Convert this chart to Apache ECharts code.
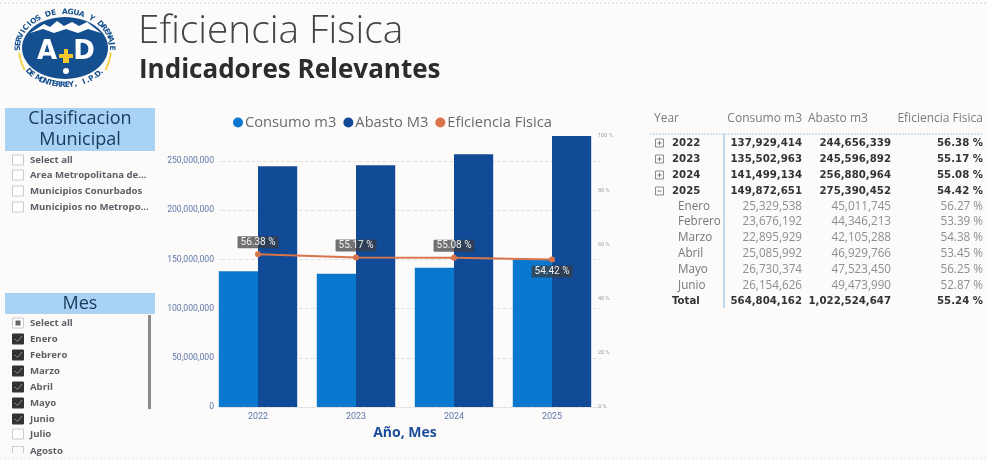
<!DOCTYPE html>
<html><head><meta charset="utf-8">
<script src="https://cdn.jsdelivr.net/npm/echarts@6/dist/echarts.min.js"></script>
<style>html,body{margin:0;padding:0;background:#fdfafa}#c{width:988px;height:461px;filter:blur(0.4px)}</style>
</head><body><div id="c"></div>
<script>
const years = ['2022','2023','2024','2025'];
const consumo = [137929414,135502963,141499134,149872651];
const abasto = [244656339,245596892,256880964,275390452];
const eficiencia = [56.38,55.17,55.08,54.42];
const municipalItems = ['Select all','Area Metropolitana de...','Municipios Conurbados','Municipios no Metropo...'];
const mesItems = ['Select all','Enero','Febrero','Marzo','Abril','Mayo','Junio','Julio','Agosto'];
const tableHeader = ['Year','Consumo m3','Abasto m3','Eficiencia Fisica'];
const tableYears = [['2022','137,929,414','244,656,339','56.38 %'],['2023','135,502,963','245,596,892','55.17 %'],['2024','141,499,134','256,880,964','55.08 %'],['2025','149,872,651','275,390,452','54.42 %']];
const tableMonths = [['Enero','25,329,538','45,011,745','56.27 %'],['Febrero','23,676,192','44,346,213','53.39 %'],['Marzo','22,895,929','42,105,288','54.38 %'],['Abril','25,085,992','46,929,766','53.45 %'],['Mayo','26,730,374','47,523,450','56.25 %'],['Junio','26,154,626','49,473,990','52.87 %']];
const tableTotal = ['Total','564,804,162','1,022,524,647','55.24 %'];

const g = [];
const txt = (x,y,text,font,fill,align) => g.push({type:'text',x,y,style:{text,font,fill,align:align||'left',verticalAlign:'middle'}});
const rect = (x,y,w,h,st) => g.push({type:'rect',shape:{x,y,width:w,height:h},style:st});
const line = (x1,y1,x2,y2,st) => g.push({type:'line',shape:{x1,y1,x2,y2},style:st});

line(0,3,988,3,{stroke:'#d6d2d2',lineWidth:1,lineDash:[2,2]});
line(0,458,988,458,{stroke:'#e9e2e2',lineWidth:1,lineDash:[2,2]});

// logo
const NAVY='#14508f', CX=65, CY=48;
g.push({type:'ellipse',shape:{cx:CX,cy:CY,rx:43,ry:31},style:{fill:NAVY}});
g.push({type:'polygon',shape:{points:[[30,33],[44,24],[50,27],[57,21],[64,26],[72,22],[79,26],[87,22],[101,33],[88,29],[78,33],[66,29],[54,33],[43,29]]},style:{fill:'#ffffff'}});
g.push({type:'text',x:47,y:52,style:{text:'A',font:'bold 26px "DejaVu Sans"',fill:'#ffffff',align:'center',verticalAlign:'middle'}});
g.push({type:'text',x:84,y:52,style:{text:'D',font:'bold 26px "DejaVu Sans"',fill:'#ffffff',align:'center',verticalAlign:'middle'}});
rect(63,54,6,9,{fill:'#f2c62e'});
rect(59,54,14,4,{fill:'#f2c62e'});
rect(64,49,4,5,{fill:'#f2c62e'});
g.push({type:'circle',shape:{cx:66,cy:71,r:3},style:{fill:'#ffffff'}});
const ring=(s,start,end,top)=>{[...s].forEach((ch,i)=>{const a=start+(end-start)*i/(s.length-1);
 g.push({type:'text',x:CX+47*Math.cos(a),y:CY+(top?36:37)*Math.sin(a),rotation:-(a+(top?Math.PI/2:-Math.PI/2)),style:{text:ch,font:'bold 7.5px "DejaVu Sans"',fill:NAVY,align:'center',verticalAlign:'middle'}});});};
ring('SERVICIOS DE AGUA Y DRENAJE',-Math.PI,0,true);
ring('DE MONTERREY, I.P.D.',Math.PI*0.78,Math.PI*0.22,false);
g.push({type:'arc',shape:{cx:CX,cy:CY,r:46,startAngle:0.1,endAngle:0.5},style:{stroke:'#f2d24e',lineWidth:2,fill:null}});
g.push({type:'arc',shape:{cx:CX,cy:CY,r:46,startAngle:Math.PI-0.5,endAngle:Math.PI-0.1},style:{stroke:'#f2d24e',lineWidth:2,fill:null}});

// titles
txt(138,32,'Eficiencia Fisica','300 38.8px "Open Sans"','#444444');
txt(139,71,'Indicadores Relevantes','bold 26px "Open Sans"','#2c2c2c');

// slicers
const HEAD='#a8d3f5', HTXT='#17395a', SL='#5c6066';
rect(5,108,150,43,{fill:HEAD});
txt(80,119,'Clasificacion','500 18px "Open Sans"',HTXT,'center');
txt(80,140,'Municipal','500 18px "Open Sans"',HTXT,'center');
[160,175,191,207].forEach((y,i)=>{
  rect(12.5,y-5,11,10,{fill:'#fff',stroke:'#cacaca',lineWidth:1});
  txt(30,y,municipalItems[i],'bold 9.6px "Open Sans"',SL);
});
rect(5,293,150,21,{fill:HEAD});
txt(80,304,'Mes','500 18px "Open Sans"',HTXT,'center');
[323,339,355,371,387,403,419,434,451].forEach((y,i)=>{
  const on=i>=1&&i<=6;
  if(i===8){ line(12.5,y-4.5,23.5,y-4.5,{stroke:'#cacaca',lineWidth:1}); line(12.5,y-4.5,12.5,y+2,{stroke:'#cacaca',lineWidth:1}); line(23.5,y-4.5,23.5,y+2,{stroke:'#cacaca',lineWidth:1}); }
  else rect(12.5,y-5,11,10,{fill:on?'#333333':'#fff',stroke:on?'#333333':'#cacaca',lineWidth:1});
  if(i===0) rect(15.5,y-2.5,5,5,{fill:'#666'});
  if(on) g.push({type:'polyline',shape:{points:[[15,y],[17.5,y+2.5],[22,y-3]]},style:{stroke:'#8f8f8f',lineWidth:1,fill:null}});
  txt(30,y,mesItems[i],'bold 9.6px "Open Sans"',SL);
});
rect(148,315,3,94,{fill:'#8b8b8b'});

// table
const colX=[0,802,891,983];
const TH='#7b7b7b', THF='12px "Open Sans"';
txt(654,119,tableHeader[0],THF,TH);
txt(802,119,tableHeader[1],THF,TH,'right');
txt(808,119,tableHeader[2],THF,TH);
txt(983,119,tableHeader[3],THF,TH,'right');
line(650,134,983,134,{stroke:'#a9cbe6',lineWidth:1,lineDash:[2,1]});
line(724,134,724,308,{stroke:'#a9cbe6',lineWidth:1.5});
const BOLD='bold 10.2px "DejaVu Sans"', REG='11.7px "Open Sans"';
[143,159,175,191].forEach((y,i)=>{
  const r=tableYears[i];
  rect(655.5,y-4,8,8,{fill:'none',stroke:'#8a8a8a',lineWidth:1});
  line(657.5,y,661.5,y,{stroke:'#777',lineWidth:1});
  if(i<3) line(659.5,y-2,659.5,y+2,{stroke:'#777',lineWidth:1});
  txt(672,y,r[0],BOLD,'#333');
  for(let c=1;c<4;c++) txt(colX[c],y,r[c],BOLD,'#333','right');
});
[207,222,238,254,270,286].forEach((y,i)=>{
  const r=tableMonths[i];
  txt(678,y,r[0],REG,'#777');
  for(let c=1;c<4;c++) txt(colX[c],y,r[c],REG,'#8e8e8e','right');
});
txt(672,301,tableTotal[0],BOLD,'#333');
for(let c=1;c<4;c++) txt(colX[c],301,tableTotal[c],BOLD,'#333','right');

const chart = echarts.init(document.getElementById('c'),null,{renderer:'canvas'});
const AX='#5d78ab';
const lbl = p => ({show:true,position:p,distance:3,formatter:o=>o.value.toFixed(2)+' %',color:'#f2f2f2',fontSize:10,fontFamily:'Roboto',backgroundColor:'rgba(60,60,60,0.72)',padding:[1,3],borderRadius:1});
chart.setOption({
  animation:false,
  backgroundColor:'#fdfafa',
  textStyle:{fontFamily:'Open Sans'},
  legend:{top:110,left:228,itemWidth:10,itemHeight:10,itemGap:7,icon:'circle',data:['Consumo m3','Abasto M3','Eficiencia Fisica'],
    textStyle:{color:'#6a6a6a',fontSize:14.7,fontFamily:'Open Sans',padding:[0,0,0,-3]}},
  grid:{left:209,right:387,top:136,bottom:54},
  xAxis:{type:'category',data:years,axisTick:{show:false},axisLine:{lineStyle:{color:'#dedede',type:'dashed'}},
    axisLabel:{color:AX,fontSize:9,fontFamily:'Roboto',margin:5},
    name:'Año, Mes',nameLocation:'middle',nameGap:18,nameTextStyle:{color:'#1a4c9c',fontSize:14,fontWeight:'bold',fontFamily:'Open Sans'}},
  yAxis:[
    {type:'value',min:0,max:275390452,interval:50000000,axisLine:{show:false},axisTick:{show:false},
     splitLine:{showMaxLine:false,lineStyle:{color:'#e2e0e0',type:'dashed'}},
     axisLabel:{color:AX,fontSize:8.6,fontFamily:'Roboto',margin:-9,backgroundColor:'#fdfafa',padding:[0,4,0,0],showMaxLabel:false,
       formatter:v=>v.toLocaleString('en-US')}},
    {type:'value',min:0,max:100,interval:20,position:'right',axisLine:{show:false},axisTick:{show:false},splitLine:{show:false},
     axisLabel:{color:'#a0a0a0',fontSize:5.5,fontFamily:'Roboto',margin:-3,formatter:v=>v+' %'}}
  ],
  series:[
    {name:'Consumo m3',type:'bar',data:consumo,barGap:0,barCategoryGap:'20%',itemStyle:{color:'#0a78cf'}},
    {name:'Abasto M3',type:'bar',data:abasto,itemStyle:{color:'#114a96'}},
    {name:'Eficiencia Fisica',type:'line',yAxisIndex:1,data:eficiencia.map((v,i)=>({value:v,label:lbl(i===3?'bottom':'top')})),
      symbol:'circle',symbolSize:6,lineStyle:{color:'#d9734b',width:2},itemStyle:{color:'#d9734b'},z:5}
  ],
  graphic:{elements:g}
});
</script></body></html>
